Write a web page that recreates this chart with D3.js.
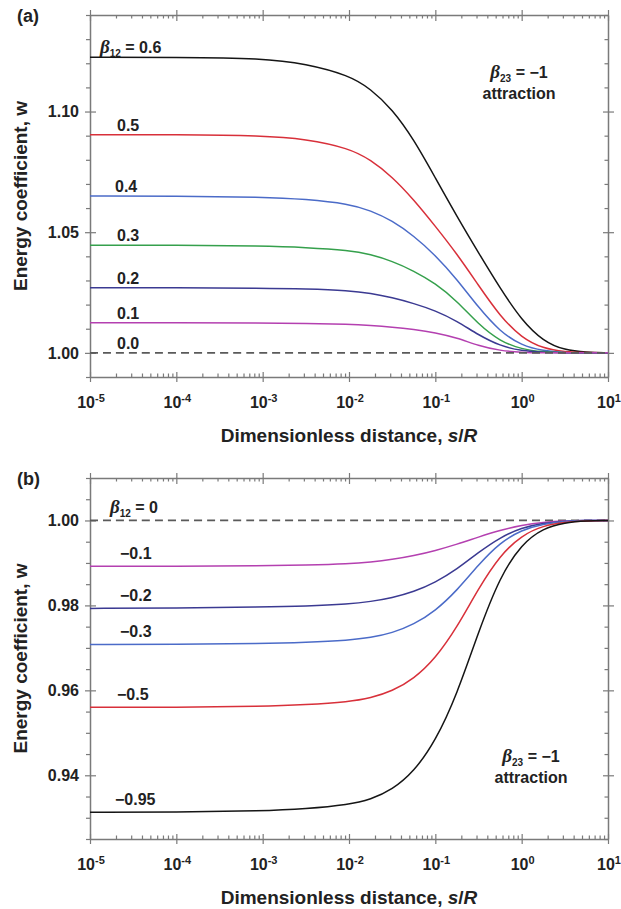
<!DOCTYPE html>
<html>
<head>
<meta charset="utf-8">
<script src="https://cdn.jsdelivr.net/npm/d3@7"></script>
<style>
  body { margin: 0; background: #fff; }
  svg { display: block; font-family: Arial, "Liberation Sans", sans-serif; }
</style>
</head>
<body>
<div id="chart"></div>
<script>
const sGrid = [1e-5, 1e-4, 1e-3, 0.00316, 0.01, 0.0178, 0.0316, 0.0562, 0.1,
  0.178, 0.316, 0.562, 1, 1.78, 3.16, 5.62, 10];

// panel (a): beta12 >= 0
const betaA = ["0.6", "0.5", "0.4", "0.3", "0.2", "0.1", "0.0"];
const wA06 = [1.1225, 1.1225, 1.1221, 1.1198, 1.1150, 1.1094, 1.1010, 1.0885, 1.0725, 1.0565, 1.0415, 1.0268, 1.0135, 1.0048, 1.0011, 1.0002, 1.0];
const wA05 = [1.0904, 1.0904, 1.0900, 1.0886, 1.0848, 1.0800, 1.0730, 1.0635, 1.0525, 1.0410, 1.0280, 1.0152, 1.0062, 1.0018, 1.0004, 1.0001, 1.0];
const wA04 = [1.0650, 1.0650, 1.0646, 1.0637, 1.0617, 1.0590, 1.0548, 1.0485, 1.0405, 1.0305, 1.0188, 1.0088, 1.0030, 1.0008, 1.0001, 1.0, 1.0];
const wA03 = [1.0446, 1.0446, 1.0443, 1.0437, 1.0425, 1.0408, 1.0380, 1.0340, 1.0288, 1.0215, 1.0118, 1.0048, 1.0015, 1.0004, 1.0, 1.0, 1.0];
const wA02 = [1.0270, 1.0270, 1.0268, 1.0265, 1.0258, 1.0247, 1.0229, 1.0205, 1.0175, 1.0132, 1.0074, 1.0029, 1.0008, 1.0002, 1.0, 1.0, 1.0];
const wA01 = [1.0125, 1.0125, 1.0124, 1.0122, 1.0119, 1.0114, 1.0107, 1.0097, 1.0084, 1.0062, 1.0030, 1.0009, 1.0002, 1.0, 1.0, 1.0, 1.0];
const wA00 = [1.0, 1.0, 1.0, 1.0, 1.0, 1.0, 1.0, 1.0, 1.0, 1.0, 1.0, 1.0, 1.0, 1.0, 1.0, 1.0, 1.0];

// panel (b): beta12 <= 0
const betaB = ["0", "\u22120.1", "\u22120.2", "\u22120.3", "\u22120.5", "\u22120.95"];
const wB00 = [1.0, 1.0, 1.0, 1.0, 1.0, 1.0, 1.0, 1.0, 1.0, 1.0, 1.0, 1.0, 1.0, 1.0, 1.0, 1.0, 1.0];
const wB01 = [0.9892, 0.9892, 0.9893, 0.9895, 0.9898, 0.9902, 0.9908, 0.9917, 0.9929, 0.9944, 0.9961, 0.9977, 0.9989, 0.9996, 0.9999, 1.0, 1.0];
const wB02 = [0.9793, 0.9794, 0.9796, 0.9798, 0.9803, 0.9809, 0.9818, 0.9832, 0.9854, 0.9885, 0.9925, 0.9960, 0.9983, 0.9994, 0.9998, 1.0, 1.0];
const wB03 = [0.9708, 0.9708, 0.9710, 0.9713, 0.9718, 0.9724, 0.9735, 0.9755, 0.9787, 0.9835, 0.9896, 0.9948, 0.9978, 0.9992, 0.9998, 1.0, 1.0];
const wB05 = [0.9560, 0.9560, 0.9562, 0.9566, 0.9573, 0.9582, 0.9598, 0.9627, 0.9675, 0.9748, 0.9840, 0.9918, 0.9965, 0.9988, 0.9996, 0.9999, 1.0];
const wB095 = [0.9313, 0.9313, 0.9316, 0.9321, 0.9331, 0.9343, 0.9366, 0.9408, 0.9480, 0.9590, 0.9738, 0.9868, 0.9945, 0.9982, 0.9995, 0.9999, 1.0];

// ticks
const xDecades = [1e-5, 1e-4, 1e-3, 1e-2, 1e-1, 1, 10];
const xExponents = ["-5", "-4", "-3", "-2", "-1", "0", "1"];
const yTicksA = [1.00, 1.05, 1.10];
const yMinorA = [0.99, 1.01, 1.02, 1.03, 1.04, 1.06, 1.07, 1.08, 1.09, 1.11, 1.12, 1.13, 1.14];
const yTicksB = [0.94, 0.96, 0.98, 1.00];
const yMinorB = [0.925, 0.93, 0.935, 0.945, 0.95, 0.955, 0.965, 0.97, 0.975, 0.985, 0.99, 0.995, 1.005, 1.01];

const colors = {
  black: "#151515", red: "#d8303a", blue: "#4b6bc8",
  green: "#35a04c", navy: "#3b3a92", magenta: "#b440b0", dash: "#5a5a5a"
};
const axisColor = "#7a7a7a";

const width = 621, height = 909;
const svg = d3.select("#chart").append("svg")
  .attr("width", width).attr("height", height);

const left = 90, right = 608;
const x = d3.scaleLog().domain([1e-5, 10]).range([left, right]);

const xMinor = [];
xDecades.slice(0, -1).forEach((d) => {
  for (let k = 2; k <= 9; k++) xMinor.push(d * k);
});

function drawPanel(opt) {
  const g = svg.append("g");
  const y = d3.scaleLinear().domain(opt.yDomain).range([opt.bottom, opt.top]);

  // minor ticks
  const minorX = (gen, ty, size) => g.append("g")
    .attr("transform", `translate(0,${ty})`)
    .call(gen(x).tickValues(xMinor).tickSize(size).tickSizeOuter(0).tickFormat(""))
    .call((a) => a.select(".domain").remove());
  minorX(d3.axisBottom, opt.bottom, -3.5);
  minorX(d3.axisTop, opt.top, -3.5);

  g.append("g").attr("transform", `translate(${left},0)`)
    .call(d3.axisLeft(y).tickValues(opt.yMinor).tickSize(4).tickSizeOuter(0).tickFormat(""))
    .call((a) => a.select(".domain").remove());
  g.append("g").attr("transform", `translate(${right},0)`)
    .call(d3.axisRight(y).tickValues(opt.yMinor).tickSize(-3.5).tickSizeOuter(0).tickFormat(""))
    .call((a) => a.select(".domain").remove());

  // major ticks (crossing the frame)
  const bottomAxis = g.append("g").attr("transform", `translate(0,${opt.bottom})`)
    .call(d3.axisBottom(x).tickValues(xDecades).tickSize(5).tickSizeOuter(0).tickFormat(""));
  bottomAxis.selectAll(".tick line").attr("y1", -5);
  const topAxis = g.append("g").attr("transform", `translate(0,${opt.top})`)
    .call(d3.axisTop(x).tickValues(xDecades).tickSize(5).tickSizeOuter(0).tickFormat(""));
  topAxis.selectAll(".tick line").attr("y1", 6);
  const leftAxis = g.append("g").attr("transform", `translate(${left},0)`)
    .call(d3.axisLeft(y).tickValues(opt.yTicks).tickSize(5).tickSizeOuter(0).tickFormat(d3.format(".2f")));
  leftAxis.selectAll(".tick line").attr("x1", 6);
  leftAxis.selectAll(".tick text")
    .attr("x", -11).attr("dy", "0.34em")
    .style("font-size", "16px").style("font-weight", "bold").attr("fill", "#222");
  const rightAxis = g.append("g").attr("transform", `translate(${right},0)`)
    .call(d3.axisRight(y).tickValues(opt.yTicks).tickSize(6).tickSizeOuter(0).tickFormat(""));
  rightAxis.selectAll(".tick line").attr("x1", -5);

  g.selectAll(".domain").attr("stroke", axisColor).attr("stroke-width", 1.5);
  g.selectAll(".tick line").attr("stroke", axisColor).attr("stroke-width", 1.2);

  // x tick labels with exponents
  xDecades.forEach((d, i) => {
    const t = g.append("text")
      .attr("x", x(d) + 1).attr("y", opt.bottom + 31)
      .attr("text-anchor", "middle")
      .style("font-size", "16px").style("font-weight", "bold").attr("fill", "#222");
    t.append("tspan").text("10");
    t.append("tspan").attr("dy", -6).style("font-size", "11px").text(xExponents[i]);
  });

  // curves
  const line = d3.line()
    .x((d) => x(d[0]))
    .y((d) => y(d[1]))
    .curve(d3.curveBasis);

  opt.series.forEach((s) => {
    g.append("path")
      .datum(sGrid.map((v, i) => [v, s.values[i]]))
      .attr("fill", "none")
      .attr("stroke", s.color)
      .attr("stroke-width", s.dashed ? 1.8 : 1.5)
      .attr("stroke-dasharray", s.dashed ? "8,5" : null)
      .attr("d", line);
  });

  // curve labels
  opt.series.forEach((s, i) => {
    const t = g.append("text")
      .attr("x", s.lx)
      .attr("y", y(s.values[0]) - opt.labelGap)
      .style("font-size", "16px").style("font-weight", "bold").attr("fill", "#222");
    if (i === 0) {
      t.append("tspan").style("font-family", "'Liberation Serif', serif")
        .style("font-style", "italic").style("font-size", "19px").text("\u03b2");
      t.append("tspan").attr("dy", 4).style("font-size", "10px").text("12");
      t.append("tspan").attr("dy", -4).text(" = " + s.label);
    } else {
      t.text(s.label);
    }
  });

  // panel tag
  svg.append("text").attr("x", 17).attr("y", opt.top + 7)
    .style("font-size", "18px").style("font-weight", "bold").attr("fill", "#222")
    .text(opt.tag);

  // annotation
  const a1 = svg.append("text").attr("x", opt.noteX).attr("y", opt.noteY)
    .attr("text-anchor", "middle")
    .style("font-size", "16px").style("font-weight", "bold").attr("fill", "#222");
  a1.append("tspan").style("font-family", "'Liberation Serif', serif")
    .style("font-style", "italic").style("font-size", "19px").text("\u03b2");
  a1.append("tspan").attr("dy", 4).style("font-size", "10px").text("23");
  a1.append("tspan").attr("dy", -4).text(" = \u22121");
  svg.append("text").attr("x", opt.noteX).attr("y", opt.noteY + 21)
    .attr("text-anchor", "middle")
    .style("font-size", "16px").style("font-weight", "bold").attr("fill", "#222")
    .text("attraction");

  // axis titles
  svg.append("text")
    .attr("transform", `translate(27,${(opt.top + opt.bottom) / 2}) rotate(-90)`)
    .attr("text-anchor", "middle")
    .style("font-size", "19px").style("font-weight", "bold").attr("fill", "#222")
    .text("Energy coefficient, w");
  const xt = svg.append("text")
    .attr("x", (left + right) / 2).attr("y", opt.bottom + 65)
    .attr("text-anchor", "middle")
    .style("font-size", "19px").style("font-weight", "bold").attr("fill", "#222");
  xt.append("tspan").text("Dimensionless distance, ");
  xt.append("tspan").style("font-style", "italic").text("s");
  xt.append("tspan").text("/");
  xt.append("tspan").style("font-style", "italic").text("R");
}

drawPanel({
  tag: "(a)", top: 15, bottom: 377, yDomain: [0.99, 1.14],
  yTicks: yTicksA, yMinor: yMinorA, labelGap: 4,
  noteX: 519, noteY: 78,
  series: [
    { label: betaA[0], values: wA06, color: colors.black, lx: 100 },
    { label: betaA[1], values: wA05, color: colors.red, lx: 117 },
    { label: betaA[2], values: wA04, color: colors.blue, lx: 115 },
    { label: betaA[3], values: wA03, color: colors.green, lx: 117 },
    { label: betaA[4], values: wA02, color: colors.navy, lx: 117 },
    { label: betaA[5], values: wA01, color: colors.magenta, lx: 117 },
    { label: betaA[6], values: wA00, color: colors.dash, lx: 117, dashed: true }
  ]
});

drawPanel({
  tag: "(b)", top: 478, bottom: 839, yDomain: [0.925, 1.01],
  yTicks: yTicksB, yMinor: yMinorB, labelGap: 7,
  noteX: 531, noteY: 762,
  series: [
    { label: betaB[0], values: wB00, color: colors.dash, lx: 110, dashed: true },
    { label: betaB[1], values: wB01, color: colors.magenta, lx: 120 },
    { label: betaB[2], values: wB02, color: colors.navy, lx: 120 },
    { label: betaB[3], values: wB03, color: colors.blue, lx: 120 },
    { label: betaB[4], values: wB05, color: colors.red, lx: 117 },
    { label: betaB[5], values: wB095, color: colors.black, lx: 115 }
  ]
});
</script>
</body>
</html>
